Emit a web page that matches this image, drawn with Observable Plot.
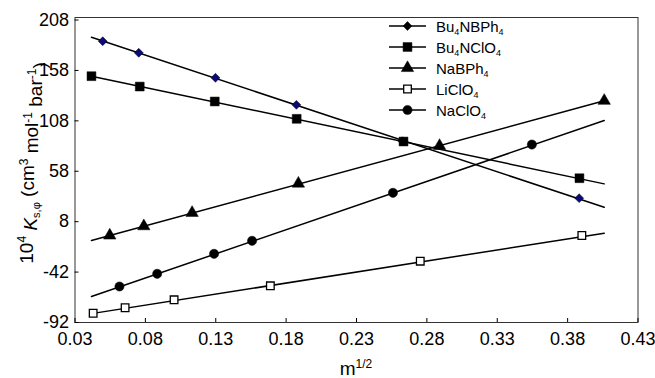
<!DOCTYPE html>
<html><head><meta charset="utf-8">
<script src="https://cdn.jsdelivr.net/npm/d3@7"></script>
<script src="https://cdn.jsdelivr.net/npm/@observablehq/plot@0.6"></script>
<style>
body{margin:0;background:#fff}
svg{font-family:"Liberation Sans",Arial,Helvetica,sans-serif}
</style>
</head><body><div id="chart"></div>
<script>
// ---- data ----
const seriesNames = ["Bu4NBPh4", "Bu4NClO4", "NaBPh4", "LiClO4", "NaClO4"];

const xBu4NBPh4 = [0.0497, 0.0753, 0.1298, 0.1873, 0.2627, 0.3882];
const yBu4NBPh4 = [187.0, 175.5, 150.7, 123.9, 87.8, 31.3];

const xBu4NClO4 = [0.0417, 0.0760, 0.1293, 0.1875, 0.2634, 0.3884];
const yBu4NClO4 = [152.3, 142.0, 127.2, 110.0, 87.5, 51.1];

const xNaBPh4 = [0.0547, 0.0789, 0.1132, 0.1887, 0.2890, 0.4060];
const yNaBPh4 = [-5.7, 3.5, 16.8, 45.8, 83.2, 127.9];

const xLiClO4 = [0.0429, 0.0656, 0.1004, 0.1688, 0.2753, 0.3901];
const yLiClO4 = [-82.8, -77.4, -69.5, -55.6, -31.2, -5.7];

const xNaClO4 = [0.0616, 0.0884, 0.1288, 0.1558, 0.2559, 0.3546];
const yNaClO4 = [-56.3, -43.7, -23.9, -11.0, 36.6, 84.5];

// fitted straight lines: end points (x, y)
const fitXBu4NBPh4 = [0.0417, 0.406], fitYBu4NBPh4 = [190.9, 22.3];
const fitXBu4NClO4 = [0.0417, 0.406], fitYBu4NClO4 = [152.3, 45.5];
const fitXNaBPh4   = [0.0417, 0.406], fitYNaBPh4   = [-10.7, 127.9];
const fitXLiClO4   = [0.0417, 0.406], fitYLiClO4   = [-83.2, -3.4];
const fitXNaClO4   = [0.0417, 0.406], fitYNaClO4   = [-66.2, 108.3];

const xTicks = [0.03, 0.08, 0.13, 0.18, 0.23, 0.28, 0.33, 0.38, 0.43];
const yTicks = [-92, -42, 8, 58, 108, 158, 208];

// ---- build tables ----
const pointX = {Bu4NBPh4: xBu4NBPh4, Bu4NClO4: xBu4NClO4, NaBPh4: xNaBPh4, LiClO4: xLiClO4, NaClO4: xNaClO4};
const pointY = {Bu4NBPh4: yBu4NBPh4, Bu4NClO4: yBu4NClO4, NaBPh4: yNaBPh4, LiClO4: yLiClO4, NaClO4: yNaClO4};
const fitX = {Bu4NBPh4: fitXBu4NBPh4, Bu4NClO4: fitXBu4NClO4, NaBPh4: fitXNaBPh4, LiClO4: fitXLiClO4, NaClO4: fitXNaClO4};
const fitY = {Bu4NBPh4: fitYBu4NBPh4, Bu4NClO4: fitYBu4NClO4, NaBPh4: fitYNaBPh4, LiClO4: fitYLiClO4, NaClO4: fitYNaClO4};

const styles = {
  Bu4NBPh4: {symbol: d3.symbolDiamond2, fill: "#0a0a78", stroke: "#000", r: 4.0, strokeWidth: 0.5},
  Bu4NClO4: {symbol: d3.symbolSquare, fill: "#000", stroke: "#000", r: 5.0, strokeWidth: 0.5},
  NaBPh4:   {symbol: d3.symbolTriangle, fill: "#000", stroke: "#000", r: 4.6, strokeWidth: 0.5},
  LiClO4:   {symbol: d3.symbolSquare, fill: "#fff", stroke: "#000", r: 4.3, strokeWidth: 1.3},
  NaClO4:   {symbol: d3.symbolCircle, fill: "#000", stroke: "#000", r: 4.6, strokeWidth: 0.5}
};

const fitRows = seriesNames.flatMap(s => fitX[s].map((x, i) => ({series: s, x, y: fitY[s][i]})));

const marks = [
  Plot.frame({stroke: "#333", strokeWidth: 1}),
  Plot.line(fitRows, {x: "x", y: "y", z: "series", stroke: "#000", strokeWidth: 1.5})
];
for (const s of seriesNames) {
  const rows = pointX[s].map((x, i) => ({x, y: pointY[s][i]}));
  const st = styles[s];
  marks.push(Plot.dot(rows, {x: "x", y: "y", symbol: st.symbol, fill: st.fill, stroke: st.stroke, r: st.r, strokeWidth: st.strokeWidth}));
}
marks.push(
  Plot.axisX({ticks: xTicks, tickFormat: d3.format(".2f"), tickSize: -4, tickPadding: 14, fontSize: 18, label: null, stroke: "#000"}),
  Plot.axisY({ticks: yTicks, tickFormat: d => String(d), tickSize: -4, tickPadding: 10, fontSize: 18, label: null, stroke: "#000"})
);

const chart = Plot.plot({
  width: 655, height: 378,
  marginLeft: 74.5, marginRight: 17.5, marginTop: 17, marginBottom: 56,
  x: {domain: [0.03, 0.43]},
  y: {domain: [-92, 210.5]},
  style: {fontFamily: '"Liberation Sans", Arial, sans-serif', color: "#000", background: "#fff"},
  marks
});
document.getElementById("chart").appendChild(chart);

// ---- axis titles & legend (drawn into the same svg) ----
const svg = d3.select(chart);

// y title
const yt = svg.append("text")
  .attr("transform", "translate(33,163) rotate(-90)")
  .attr("text-anchor", "middle")
  .attr("font-size", 19).attr("fill", "#000");
yt.append("tspan").text("10");
yt.append("tspan").attr("dy", "-0.55em").attr("font-size", 12).text("4");
yt.append("tspan").attr("dy", "0.55em").text("\u00a0");
yt.append("tspan").attr("font-style", "italic").text("K");
yt.append("tspan").attr("dy", "0.3em").attr("font-size", 11).text("s,\u03c6");
yt.append("tspan").attr("dy", "-0.3em").text(" (cm");
yt.append("tspan").attr("dy", "-0.55em").attr("font-size", 12).text("3");
yt.append("tspan").attr("dy", "0.55em").text(" mol");
yt.append("tspan").attr("dy", "-0.55em").attr("font-size", 12).text("-1");
yt.append("tspan").attr("dy", "0.55em").text(" bar");
yt.append("tspan").attr("dy", "-0.55em").attr("font-size", 12).text("-1");
yt.append("tspan").attr("dy", "0.55em").text(")");

// x title
const xt = svg.append("text")
  .attr("x", 356).attr("y", 375)
  .attr("text-anchor", "middle")
  .attr("font-size", 19).attr("fill", "#000");
xt.append("tspan").text("m");
xt.append("tspan").attr("dy", "-0.6em").attr("font-size", 12).text("1/2");

// legend
const legendParts = {
  Bu4NBPh4: [["Bu", false], ["4", true], ["NBPh", false], ["4", true]],
  Bu4NClO4: [["Bu", false], ["4", true], ["NClO", false], ["4", true]],
  NaBPh4:   [["NaBPh", false], ["4", true]],
  LiClO4:   [["LiClO", false], ["4", true]],
  NaClO4:   [["NaClO", false], ["4", true]]
};
const lg = svg.append("g").attr("text-anchor", "start");
seriesNames.forEach((s, i) => {
  const y = 26 + i * 21;
  const st = styles[s];
  lg.append("line").attr("x1", 389).attr("x2", 426).attr("y1", y).attr("y2", y)
    .attr("stroke", "#000").attr("stroke-width", 1.5);
  lg.append("path")
    .attr("d", d3.symbol(st.symbol, Math.PI * st.r * st.r)())
    .attr("transform", `translate(407.5,${y})`)
    .attr("fill", s === "Bu4NBPh4" ? "#000" : st.fill)
    .attr("stroke", "#000").attr("stroke-width", st.strokeWidth);
  const t = lg.append("text").attr("x", 436).attr("y", y + 5.5)
    .attr("text-anchor", "start")
    .attr("font-size", 15).attr("fill", "#000");
  let shifted = false;
  for (const [txt, sub] of legendParts[s]) {
    const ts = t.append("tspan").text(txt);
    if (sub && !shifted) { ts.attr("dy", 3).attr("font-size", 9); shifted = true; }
    else if (!sub && shifted) { ts.attr("dy", -3); shifted = false; }
    else if (sub) ts.attr("font-size", 9);
  }
});
</script>
</body></html>
